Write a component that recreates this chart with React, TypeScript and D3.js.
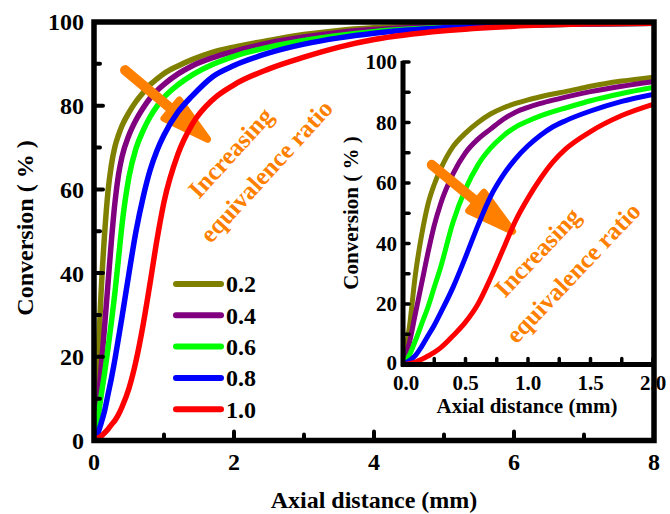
import React from 'react';
import * as d3 from 'd3';

// ---------- data ----------
const ratios = ['0.2', '0.4', '0.6', '0.8', '1.0'];
const colors = ['#808000', '#800080', '#00FF00', '#0000FF', '#FF0000'];

const mainDist = [0, 0.05, 0.1, 0.15, 0.2, 0.25, 0.3, 0.35, 0.4, 0.5, 0.6, 0.7, 0.8, 0.9, 1.0, 1.2, 1.4, 1.7, 2.0, 2.5, 3, 3.5, 4, 5, 6, 7, 8];
const main02 = [0, 16, 35, 49, 59.5, 66, 70.3, 73, 75.2, 78.4, 81, 83.1, 85, 86.4, 87.7, 89.5, 91, 92.8, 94, 95.6, 97, 98, 98.6, 99.1, 99.4, 99.6, 99.7];
const main04 = [0, 7, 17, 27, 37.5, 48, 57, 63.5, 67.8, 73, 76.6, 79.4, 81.8, 83.6, 85.1, 87.6, 89.5, 91.5, 93, 95, 96.4, 97.5, 98.2, 99, 99.4, 99.6, 99.7];
const main06 = [0, 4.5, 10.5, 16, 22, 28.5, 35.5, 43.5, 51.5, 63, 69.8, 74, 77.3, 79.9, 82, 85, 87.3, 89.9, 91.8, 94, 95.6, 96.8, 97.7, 98.7, 99.2, 99.5, 99.7];
const main08 = [0, 1.5, 4, 7, 11, 15, 19.5, 24.5, 29.5, 40, 50, 58, 64.5, 69.3, 73, 78.5, 82.3, 87, 89.6, 92.6, 94.7, 96.2, 97.3, 98.6, 99.2, 99.5, 99.7];
const main10 = [0, 0.5, 1, 1.8, 2.7, 3.8, 4.8, 6.2, 8, 12.5, 19, 27.5, 37.5, 48, 57, 68.5, 75.5, 81.5, 85, 88.8, 91.6, 94, 95.8, 97.9, 99, 99.5, 99.7];

const insetDist = [0, 0.05, 0.1, 0.15, 0.2, 0.25, 0.3, 0.4, 0.5, 0.6, 0.7, 0.8, 0.9, 1.0, 1.1, 1.2, 1.3, 1.5, 1.75, 2.0];
const inset02 = [0, 12, 30, 43, 53, 59.5, 64.5, 72, 76.5, 80, 82.8, 84.8, 86.3, 87.5, 88.5, 89.4, 90.2, 92, 93.7, 95];
const inset04 = [0, 7, 17, 27, 37, 46, 53, 63, 70, 74.5, 77.8, 81, 83.4, 85, 86.3, 87.4, 88.4, 90.2, 92, 93.5];
const inset06 = [0, 3, 8, 13.5, 19, 25.5, 32, 47, 58, 66, 71.5, 75.5, 78.5, 80.5, 82.2, 83.6, 84.8, 87.2, 89.6, 91.6];
const inset08 = [0, 1.2, 3, 6, 9.5, 13, 17, 25.5, 35.5, 46, 55.5, 62.5, 68, 72.3, 75.8, 78.6, 80.6, 83.8, 87, 89.3];
const inset10 = [0, 0.3, 0.8, 1.7, 2.8, 4, 5.5, 9.5, 14, 20, 28.5, 38, 47.5, 55, 61.5, 67, 71.2, 77, 82.3, 86];

const mainXTicks = [0, 2, 4, 6, 8];
const mainYTicks = [0, 20, 40, 60, 80, 100];
const insetXTicks = [0, 0.5, 1.0, 1.5, 2.0];
const insetYTicks = [0, 20, 40, 60, 80, 100];

const annoLines = ['Increasing', 'equivalence ratio'];
// annotation anchors in data coordinates
const mainArrow = { from: [0.443, 88.5], to: [1.657, 71.5] };
const insetArrow = { from: [0.23, 66], to: [0.896, 43.4] };
const mainAnno = [[2.04, 67.4], [2.55, 63.0]];
const insetAnno = [[1.125, 35.2], [1.41, 28.4]];

const mainSeries = [main02, main04, main06, main08, main10];
const insetSeries = [inset02, inset04, inset06, inset08, inset10];

const FONT = "'Liberation Serif', 'Times New Roman', Times, Tinos, 'DejaVu Serif', serif";
const ORANGE = '#FF8000';
const T: React.CSSProperties = { fontFamily: FONT, fontWeight: 700 };

function Arrow({ s, t }: { s: [number, number]; t: [number, number] }) {
  const dx = t[0] - s[0], dy = t[1] - s[1];
  const len = Math.hypot(dx, dy);
  const ux = dx / len, uy = dy / len;
  const nx = -uy, ny = ux;
  const headLen = 50, half = 12;
  const bx = t[0] - headLen * ux, by = t[1] - headLen * uy;
  const w1 = [bx + half * nx, by + half * ny];
  const w2 = [bx - half * nx, by - half * ny];
  const tip = [t[0] - 3 * ux, t[1] - 3 * uy];
  return (
    <g>
      <line x1={s[0]} y1={s[1]} x2={bx + 10 * ux} y2={by + 10 * uy} stroke={ORANGE} strokeWidth={10} strokeLinecap="round" />
      <polygon points={`${w1[0]},${w1[1]} ${tip[0]},${tip[1]} ${w2[0]},${w2[1]}`} fill={ORANGE} stroke={ORANGE} strokeWidth={7} strokeLinejoin="round" />
    </g>
  );
}

export default function App() {
  const mx = d3.scaleLinear().domain([0, 8]).range([94, 654]);
  const my = d3.scaleLinear().domain([0, 100]).range([440.5, 22]);
  const ix = d3.scaleLinear().domain([0, 2]).range([403, 653]);
  const iy = d3.scaleLinear().domain([0, 100]).range([364.5, 62]);

  const mainLine = (vals: number[]) =>
    d3.line<number>().x((_, i) => mx(mainDist[i])).y(d => my(d)).curve(d3.curveMonotoneX)(vals) || '';
  const insetLine = (vals: number[]) =>
    d3.line<number>().x((_, i) => ix(insetDist[i])).y(d => iy(d)).curve(d3.curveMonotoneX)(vals) || '';

  const mainMinorX = d3.range(0, 8.001, 1);
  const mainMinorY = d3.range(0, 100.001, 10);
  const insetMinorX = d3.range(0, 2.001, 0.25);
  const insetMinorY = d3.range(0, 100.001, 10);

  const annoAngle = -47.5;

  return (
    <svg width={670} height={514} style={{ position: 'fixed', left: 0, top: 0, background: '#fff', fontFamily: FONT, fontWeight: 700 }}>
      <defs>
        <clipPath id="mainClip"><rect x={94} y={22} width={560} height={418.5} /></clipPath>
        <clipPath id="insetClip"><rect x={403} y={40} width={250} height={324.5} /></clipPath>
      </defs>
      <rect x={0} y={0} width={670} height={514} fill="#fff" />

      {/* main curves */}
      <g clipPath="url(#mainClip)" fill="none" strokeWidth={5.5} strokeLinecap="round">
        {mainSeries.slice(0, 3).map((s, i) => (
          <path key={i} d={mainLine(s)} stroke={colors[i]} />
        ))}
      </g>
      <Arrow s={[mx(mainArrow.from[0]), my(mainArrow.from[1])]} t={[mx(mainArrow.to[0]), my(mainArrow.to[1])]} />
      <g clipPath="url(#mainClip)" fill="none" strokeWidth={5.5} strokeLinecap="round">
        {mainSeries.slice(3).map((s, i) => (
          <path key={i} d={mainLine(s)} stroke={colors[i + 3]} />
        ))}
      </g>

      {/* main annotation */}
      {annoLines.map((t, i) => (
        <text key={i} style={T} x={mx(mainAnno[i][0])} y={my(mainAnno[i][1])} fill={ORANGE} fontSize={25} textAnchor="middle"
          transform={`rotate(${annoAngle},${mx(mainAnno[i][0])},${my(mainAnno[i][1])})`}>{t}</text>
      ))}

      {/* legend */}
      {ratios.map((r, i) => (
        <g key={r}>
          <line x1={176} x2={221} y1={284 + i * 31.3} y2={284 + i * 31.3} stroke={colors[i]} strokeWidth={6} strokeLinecap="round" />
          <text style={T} x={226} y={284 + i * 31.3} dy="0.35em" fontSize={24} fill="#000">{r}</text>
        </g>
      ))}

      {/* main axes ticks */}
      {mainMinorY.map(v => (
        <line key={'my' + v} x1={94} x2={94 + (v % 20 === 0 ? 9 : 6)} y1={my(v)} y2={my(v)} stroke="#000" strokeWidth={4} strokeLinecap="round" />
      ))}
      {mainMinorX.map(v => (
        <line key={'mx' + v} x1={mx(v)} x2={mx(v)} y1={440.5} y2={440.5 - (v % 2 === 0 ? 9 : 6)} stroke="#000" strokeWidth={4} strokeLinecap="round" />
      ))}
      {mainYTicks.map(v => (
        <text key={'myt' + v} style={T} x={84} y={my(v)} dy="0.35em" textAnchor="end" fontSize={24} fill="#000">{v}</text>
      ))}
      {mainXTicks.map(v => (
        <text key={'mxt' + v} style={T} x={mx(v)} y={470} textAnchor="middle" fontSize={24} fill="#000">{v}</text>
      ))}
      <text style={T} x={374} y={508} textAnchor="middle" fontSize={24} fill="#000">Axial distance (mm)</text>
      <text style={T} transform="translate(33,228) rotate(-90)" textAnchor="middle" fontSize={24} fill="#000">Conversion ( % )</text>

      {/* inset curves */}
      <g clipPath="url(#insetClip)" fill="none" strokeWidth={5} strokeLinecap="round">
        {insetSeries.slice(0, 3).map((s, i) => (
          <path key={i} d={insetLine(s)} stroke={colors[i]} />
        ))}
      </g>
      <Arrow s={[ix(insetArrow.from[0]), iy(insetArrow.from[1])]} t={[ix(insetArrow.to[0]), iy(insetArrow.to[1])]} />
      <g clipPath="url(#insetClip)" fill="none" strokeWidth={5} strokeLinecap="round">
        {insetSeries.slice(3).map((s, i) => (
          <path key={i} d={insetLine(s)} stroke={colors[i + 3]} />
        ))}
      </g>
      {annoLines.map((t, i) => (
        <text key={'ia' + i} style={T} x={ix(insetAnno[i][0])} y={iy(insetAnno[i][1])} fill={ORANGE} fontSize={25} textAnchor="middle"
          transform={`rotate(-46.5,${ix(insetAnno[i][0])},${iy(insetAnno[i][1])})`}>{t}</text>
      ))}

      {/* inset axes */}
      {insetMinorY.map(v => (
        <line key={'iy' + v} x1={403} x2={409} y1={iy(v)} y2={iy(v)} stroke="#000" strokeWidth={3.5} strokeLinecap="round" />
      ))}
      {insetMinorX.map(v => (
        <line key={'ix' + v} x1={ix(v)} x2={ix(v)} y1={364.5} y2={358.5} stroke="#000" strokeWidth={3.5} strokeLinecap="round" />
      ))}
      <line x1={403} x2={403} y1={61} y2={366.5} stroke="#000" strokeWidth={5} />
      <line x1={401} x2={653} y1={364.5} y2={364.5} stroke="#000" strokeWidth={5} />
      {insetYTicks.map(v => (
        <text key={'iyt' + v} style={T} x={397} y={iy(v) - (v === 0 ? 2 : 0)} dy="0.35em" textAnchor="end" fontSize={21} fill="#000">{v}</text>
      ))}
      {insetXTicks.map(v => (
        <text key={'ixt' + v} style={T} x={ix(v) + (v === 0 ? 3 : 0)} y={390} textAnchor="middle" fontSize={21} fill="#000">{v.toFixed(1)}</text>
      ))}
      <text style={T} x={527} y={413} textAnchor="middle" fontSize={21} fill="#000">Axial distance (mm)</text>
      <text style={T} transform="translate(358,213) rotate(-90)" textAnchor="middle" fontSize={21} fill="#000">Conversion ( % )</text>

      {/* main frame */}
      <rect x={94} y={22} width={560} height={418.5} fill="none" stroke="#000" strokeWidth={5.5} />
    </svg>
  );
}
